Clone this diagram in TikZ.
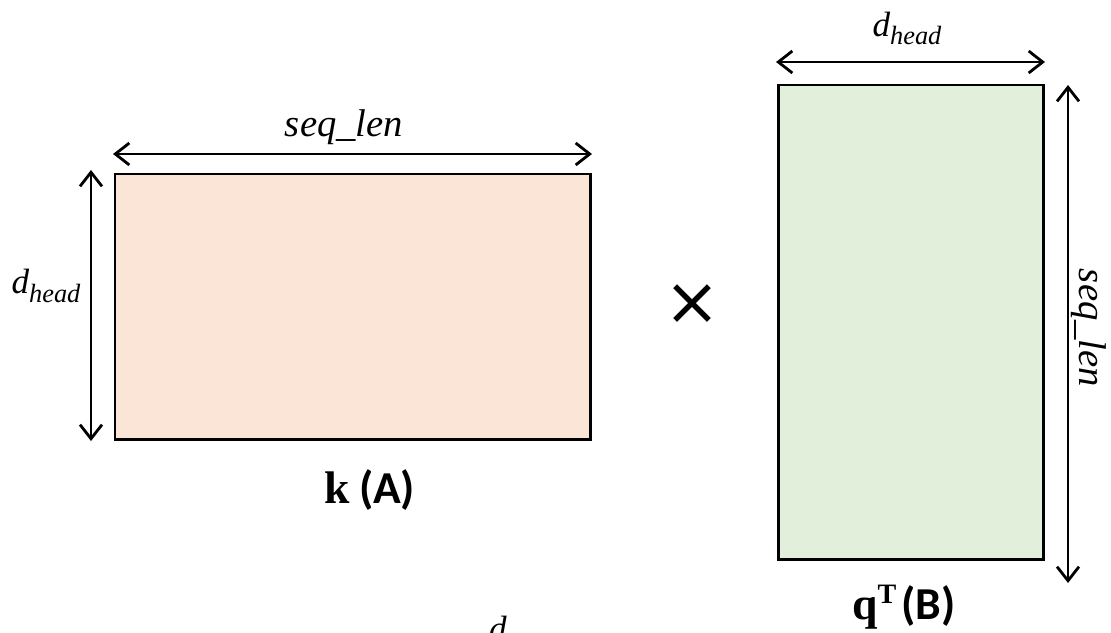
\documentclass[tikz,border=0pt]{standalone}
\usepackage{fontspec}
\setmainfont{Liberation Serif}
\newfontfamily\boldsans{Carlito}
\newfontfamily\symfont{DejaVu Sans}
\usetikzlibrary{arrows.meta}
\definecolor{kfill}{HTML}{FBE5D6}
\definecolor{qfill}{HTML}{E2EFDA}
\newcommand{\dhead}{{\fontsize{20}{22}\selectfont\itshape d\raisebox{-5pt}{\fontsize{15}{17}\selectfont head}}}
\newcommand{\seqlen}[1]{{\fontsize{#1}{24}\selectfont\itshape seq\_len}}

\begin{document}
\begin{tikzpicture}[x=0.02cm, y=-0.02cm,
  dim/.style={{Straight Barb[length=8pt,width=12.5pt]}-{Straight Barb[length=8pt,width=12.5pt]}, line width=1.6pt},
  matbox/.style={draw, line width=1.7pt}]
  \useasboundingbox (0,0) rectangle (1111,632);
  % Matrice k (A)
  \draw[matbox, fill=kfill] (115,174) rectangle (590,439);
  \coordinate (kleft) at (113,154);
  \coordinate (kright) at (592,154);
  \draw[dim] (kleft) -- (kright);
  \node[anchor=base] (kwidth) at (344,136) {\seqlen{22}};
  \coordinate (ktop) at (91,170);
  \coordinate (kbot) at (91,441);
  \draw[dim] (ktop) -- (kbot);
  \node (kheight) at (46,286) {\dhead};
  \node[anchor=base] (klabel) at (370,503)
    {{\fontsize{26}{28}\selectfont\bfseries k}\hspace{5pt}{\fontsize{26}{28}\selectfont\boldsans\bfseries (A)}};
  % Produit
  \node (times) at (692,305) {\fontsize{38}{40}\selectfont\symfont ×};
  % Matrice q^T (B)
  \draw[matbox, fill=qfill] (778,85) rectangle (1043,559);
  \coordinate (qleft) at (776,62);
  \coordinate (qright) at (1045,62);
  \draw[dim] (qleft) -- (qright);
  \node[anchor=base] (qwidth) at (907,36) {\dhead};
  \coordinate (qtop) at (1068,85);
  \coordinate (qbot) at (1068,583);
  \draw[dim] (qtop) -- (qbot);
  \node[rotate=-90, anchor=base] (qheight) at (1079,328) {\seqlen{22}};
  \node[anchor=base] (qlabel) at (904,619)
    {{\fontsize{26}{28}\selectfont\bfseries q\raisebox{9pt}{\fontsize{16}{18}\selectfont T}}\hspace{3pt}{\fontsize{26}{28}\selectfont\boldsans\bfseries (B)}};
  % Suite (coupee)
  \node[anchor=base] (cut) at (498,640) {\fontsize{20}{22}\selectfont\itshape d};
\end{tikzpicture}
\end{document}
